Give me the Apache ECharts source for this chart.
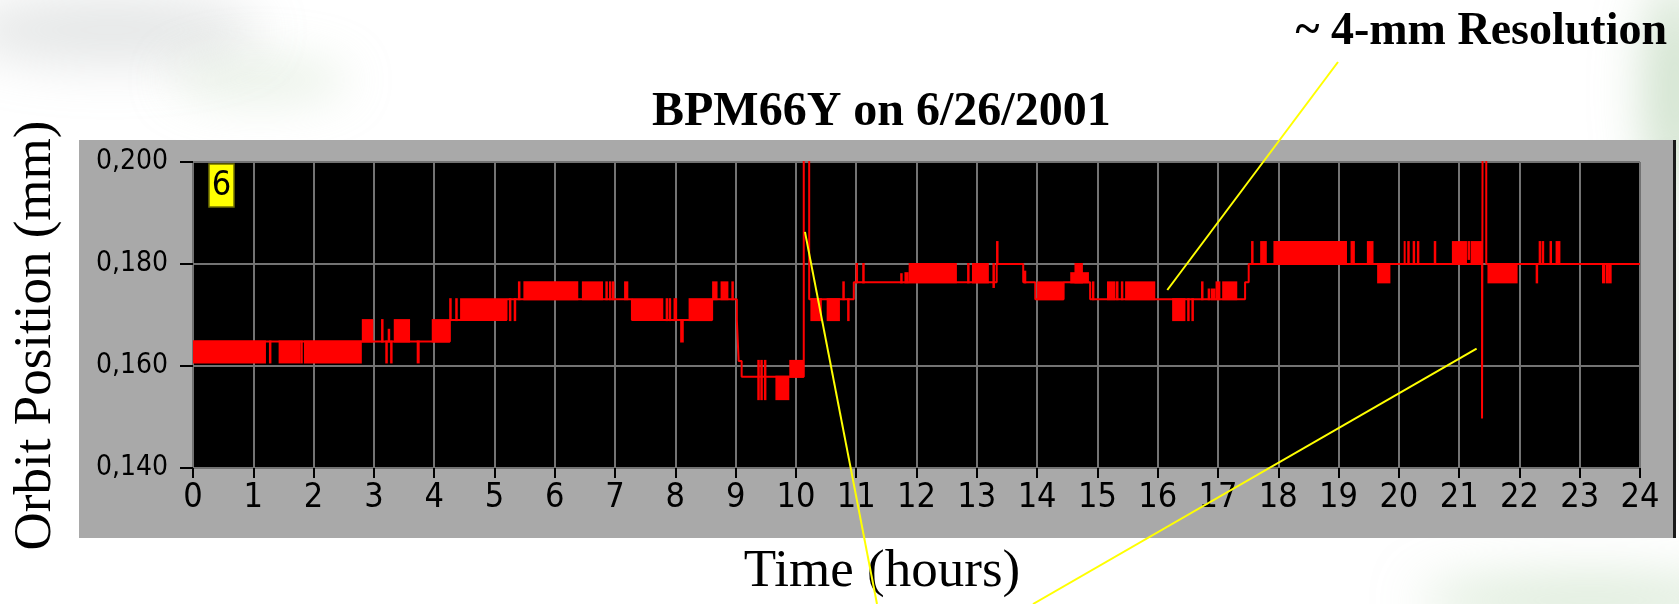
<!DOCTYPE html>
<html>
<head>
<meta charset="utf-8">
<script src="https://cdn.jsdelivr.net/npm/echarts@6/dist/echarts.min.js"></script>
<style>
  html, body { margin: 0; padding: 0; background: #ffffff; }
  #chart { width: 1679px; height: 604px; }
</style>
</head>
<body>
<div id="chart"></div>
<script>
// ---------------- DATA ----------------
const titleText = 'BPM66Y on 6/26/2001';
const noteText = '~ 4-mm Resolution';
const xName = 'Time (hours)';
const yName = 'Orbit Position (mm)';
const channelLabel = '6';

// hours axis and position axis
const xRange = [0, 24];
const yRange = [0.14, 0.20];
const yTickValues = [0.14, 0.16, 0.18, 0.20];

// base trace: [hour, position] - value holds until the next point (step)
const trace = [
  [0.00, 0.1648], [4.26, 0.1690], [5.20, 0.1731], [7.28, 0.1690],
  [8.61, 0.1731], [9.02, 0.1690], [9.05, 0.1610], [9.10, 0.1579],
  [10.13, 0.2100], [10.22, 0.1731], [10.96, 0.1764], [13.33, 0.1800],
  [13.77, 0.1764], [13.97, 0.1731], [14.44, 0.1764], [14.88, 0.1731],
  [17.45, 0.1764], [17.51, 0.1800], [21.38, 0.1497], [21.39, 0.2100],
  [21.45, 0.1800], [24.00, 0.1800]
];

// rapid toggling between two adjacent levels: [startHour, endHour, low, high]
const bands = [
  [0.00, 1.21, 0.1607, 0.1648], [1.42, 1.78, 0.1607, 0.1648], [1.84, 2.80, 0.1607, 0.1648],
  [2.80, 2.99, 0.1648, 0.1690], [3.33, 3.60, 0.1648, 0.1690], [3.71, 3.76, 0.1607, 0.1648],
  [3.96, 4.26, 0.1648, 0.1690], [4.43, 5.20, 0.1690, 0.1731], [5.48, 6.39, 0.1731, 0.1764],
  [6.45, 6.80, 0.1731, 0.1764], [7.15, 7.22, 0.1731, 0.1764], [7.28, 7.80, 0.1690, 0.1731],
  [7.97, 8.03, 0.1690, 0.1731], [8.08, 8.14, 0.1648, 0.1690], [8.22, 8.61, 0.1690, 0.1731],
  [8.61, 8.70, 0.1731, 0.1764], [8.75, 8.88, 0.1731, 0.1764], [9.66, 9.89, 0.1535, 0.1579],
  [9.89, 10.13, 0.1579, 0.1610], [10.24, 10.43, 0.1690, 0.1731], [10.51, 10.73, 0.1690, 0.1731],
  [11.80, 11.87, 0.1764, 0.1782], [11.87, 12.67, 0.1764, 0.1800], [12.92, 13.20, 0.1764, 0.1800],
  [14.00, 14.44, 0.1731, 0.1764], [14.55, 14.86, 0.1764, 0.1782], [14.62, 14.76, 0.1764, 0.1800],
  [15.16, 15.30, 0.1731, 0.1764], [15.46, 15.96, 0.1731, 0.1764], [16.24, 16.46, 0.1690, 0.1731],
  [16.88, 16.96, 0.1731, 0.1750], [16.96, 17.04, 0.1731, 0.1764], [17.07, 17.32, 0.1731, 0.1764],
  [17.70, 17.81, 0.1800, 0.1843], [17.92, 19.14, 0.1800, 0.1843], [19.47, 19.58, 0.1800, 0.1843],
  [19.64, 19.86, 0.1764, 0.1800], [20.08, 20.11, 0.1800, 0.1843], [20.88, 21.13, 0.1800, 0.1843],
  [21.19, 21.38, 0.1800, 0.1843], [21.47, 21.97, 0.1764, 0.1800], [22.60, 22.68, 0.1800, 0.1843],
  [23.37, 23.42, 0.1764, 0.1800], [23.47, 23.53, 0.1764, 0.1800]
];

// single quick excursions: [hour, low, high]
const spikes = [
  [1.28, 0.1607, 0.1648], [1.80, 0.1607, 0.1648], [3.14, 0.1648, 0.1690], [3.21, 0.1607, 0.1648],
  [3.25, 0.1648, 0.1671], [3.29, 0.1607, 0.1648], [4.27, 0.1690, 0.1731], [4.37, 0.1690, 0.1731],
  [5.26, 0.1690, 0.1731], [5.34, 0.1690, 0.1731], [5.41, 0.1731, 0.1764], [6.86, 0.1731, 0.1764],
  [6.92, 0.1731, 0.1764], [6.97, 0.1731, 0.1764], [7.86, 0.1690, 0.1731], [7.91, 0.1690, 0.1731],
  [8.95, 0.1731, 0.1764], [9.38, 0.1535, 0.1610], [9.43, 0.1535, 0.1610], [9.49, 0.1535, 0.1610],
  [10.79, 0.1731, 0.1764], [10.87, 0.1690, 0.1731], [11.01, 0.1764, 0.1800], [11.12, 0.1764, 0.1800],
  [11.75, 0.1764, 0.1780], [12.86, 0.1764, 0.1800], [13.28, 0.1755, 0.1800], [13.34, 0.1800, 0.1843],
  [13.80, 0.1764, 0.1785], [14.93, 0.1731, 0.1764], [15.33, 0.1731, 0.1764], [15.41, 0.1731, 0.1764],
  [16.51, 0.1690, 0.1731], [16.58, 0.1690, 0.1731], [16.74, 0.1731, 0.1764], [16.85, 0.1731, 0.1750],
  [17.57, 0.1800, 0.1843], [19.22, 0.1800, 0.1843], [19.25, 0.1800, 0.1843], [20.16, 0.1800, 0.1843],
  [20.25, 0.1800, 0.1843], [20.32, 0.1800, 0.1843], [20.60, 0.1800, 0.1843], [21.16, 0.1810, 0.1843],
  [22.29, 0.1764, 0.1800], [22.34, 0.1800, 0.1843], [22.39, 0.1800, 0.1843], [22.52, 0.1800, 0.1843],
  [23.45, 0.1764, 0.1800]
];

// points the yellow call-out lines touch: [hour, position]
const calloutAnchors = [[16.16, 0.1749], [10.15, 0.1863], [21.29, 0.1634]];

// ---------------- CHART ----------------
const RED = '#ff0000';
const chart = echarts.init(document.getElementById('chart'), null, { renderer: 'canvas' });

const serifFont = "'Liberation Serif', 'Times New Roman', serif";
const narrowFont = "'Liberation Sans Narrow', 'DejaVu Sans Condensed', 'Arial Narrow', sans-serif";
const condFont = "'DejaVu Sans Condensed', 'Liberation Sans Narrow', sans-serif";

// soft background haze: only the blurred shadow of an off-screen ellipse is visible
function haze(cx, cy, rx, ry, color, blur) {
  const off = 4000;
  return {
    type: 'ellipse', z: -30, silent: true,
    shape: { cx: cx - off, cy: cy, rx: rx, ry: ry },
    style: { fill: '#ffffff', shadowColor: color, shadowBlur: blur, shadowOffsetX: off, shadowOffsetY: 0 }
  };
}

const option = {
  animation: false,
  backgroundColor: '#ffffff',
  title: [
    {
      text: titleText, left: 652, top: 89, padding: 0,
      textStyle: { fontFamily: serifFont, fontWeight: 'bold', fontSize: 48, color: '#000' }
    },
    {
      text: noteText, right: 12, top: 9, padding: 0,
      textStyle: { fontFamily: serifFont, fontWeight: 'bold', fontSize: 46, color: '#000' }
    }
  ],
  grid: {
    left: 193, right: 39, top: 162, bottom: 127,
    show: true, backgroundColor: '#000000', borderColor: '#5a5a5a', borderWidth: 1
  },
  xAxis: {
    type: 'value', min: xRange[0], max: xRange[1], interval: 1,
    name: xName, nameLocation: 'middle', nameGap: 78,
    nameTextStyle: { fontFamily: serifFont, fontSize: 53, color: '#000', padding: [0, 69, 0, 0] },
    axisLine: { show: false },
    axisTick: { show: true, length: 10, lineStyle: { color: '#000', width: 2 } },
    axisLabel: { margin: 13, fontFamily: narrowFont, fontSize: 34, color: '#000' },
    splitLine: { show: true, lineStyle: { color: '#737373', width: 2 } }
  },
  yAxis: {
    type: 'value', min: yRange[0], max: yRange[1], interval: 0.02,
    name: yName, nameLocation: 'middle', nameRotate: 90, nameGap: 130,
    nameTextStyle: { fontFamily: serifFont, fontSize: 53, color: '#000', padding: [0, 41, 0, 0] },
    axisLine: { show: false },
    axisTick: { show: true, length: 13, customValues: yTickValues, lineStyle: { color: '#000', width: 2 } },
    axisLabel: {
      margin: 25, fontFamily: condFont, fontSize: 28, color: '#000', customValues: yTickValues,
      formatter: v => v.toFixed(3).replace('.', ',')
    },
    splitLine: { show: true, lineStyle: { color: '#737373', width: 2 } }
  },
  graphic: [
    // faint watercolour background
    haze(110, 30, 150, 35, 'rgba(180,185,185,0.35)', 50),
    haze(260, 80, 90, 25, 'rgba(200,220,195,0.35)', 45),
    haze(1675, 90, 30, 110, 'rgba(165,200,160,0.55)', 50),
    haze(1675, 330, 15, 160, 'rgba(185,210,180,0.35)', 40),
    haze(1590, 600, 170, 25, 'rgba(185,215,180,0.5)', 50),
    // grey instrument panel
    { type: 'rect', z: -20, shape: { x: 79, y: 140, width: 1594, height: 398 },
      style: { fill: '#a9a9a9' } },
    { type: 'rect', z: -19, shape: { x: 1673, y: 140, width: 3, height: 398 },
      style: { fill: '#1a1a1a' } },
    // yellow channel label
    { type: 'rect', z: 20, shape: { x: 209, y: 164, width: 25, height: 43 },
      style: { fill: '#ffff00', stroke: '#6f6f00', lineWidth: 1.5 } },
    { type: 'text', z: 21, style: { text: channelLabel, x: 221.5, y: 186, align: 'center', verticalAlign: 'middle',
      font: "34px 'Liberation Sans Narrow', 'DejaVu Sans Condensed', sans-serif", fill: '#000' } }
  ],
  series: [
    {
      name: 'bands', type: 'custom', z: 3,
      encode: { x: [0, 1], y: [2, 3] },
      data: bands,
      renderItem: function (params, api) {
        const p0 = api.coord([api.value(0), api.value(3)]);
        const p1 = api.coord([api.value(1), api.value(2)]);
        return {
          type: 'rect',
          shape: { x: p0[0], y: p0[1] - 1, width: Math.max(p1[0] - p0[0], 2), height: Math.max(p1[1] - p0[1], 2) + 2 },
          style: { fill: RED }
        };
      }
    },
    {
      name: 'spikes', type: 'custom', z: 3,
      encode: { x: 0, y: [1, 2] },
      data: spikes,
      renderItem: function (params, api) {
        const p0 = api.coord([api.value(0), api.value(1)]);
        const p1 = api.coord([api.value(0), api.value(2)]);
        return {
          type: 'line',
          shape: { x1: p0[0], y1: p0[1] + 1, x2: p1[0], y2: p1[1] - 1 },
          style: { stroke: RED, lineWidth: 2.5 }
        };
      }
    },
    {
      name: 'trace', type: 'line', step: 'end', z: 4,
      data: trace, showSymbol: false, symbol: 'none', clip: true,
      lineStyle: { color: RED, width: 2 }
    }
  ]
};

chart.setOption(option);

// yellow call-out lines, anchored to data positions
const freeEnds = [[1338, 62], [877, 604], [1033, 604]];
const calloutGraphics = calloutAnchors.map((a, i) => {
  const p = chart.convertToPixel({ gridIndex: 0 }, a);
  return {
    type: 'line', z: 30,
    shape: { x1: freeEnds[i][0], y1: freeEnds[i][1], x2: p[0], y2: p[1] },
    style: { stroke: '#ffff00', lineWidth: 2 }
  };
});
chart.setOption({ graphic: option.graphic.concat(calloutGraphics) });
</script>
</body>
</html>
